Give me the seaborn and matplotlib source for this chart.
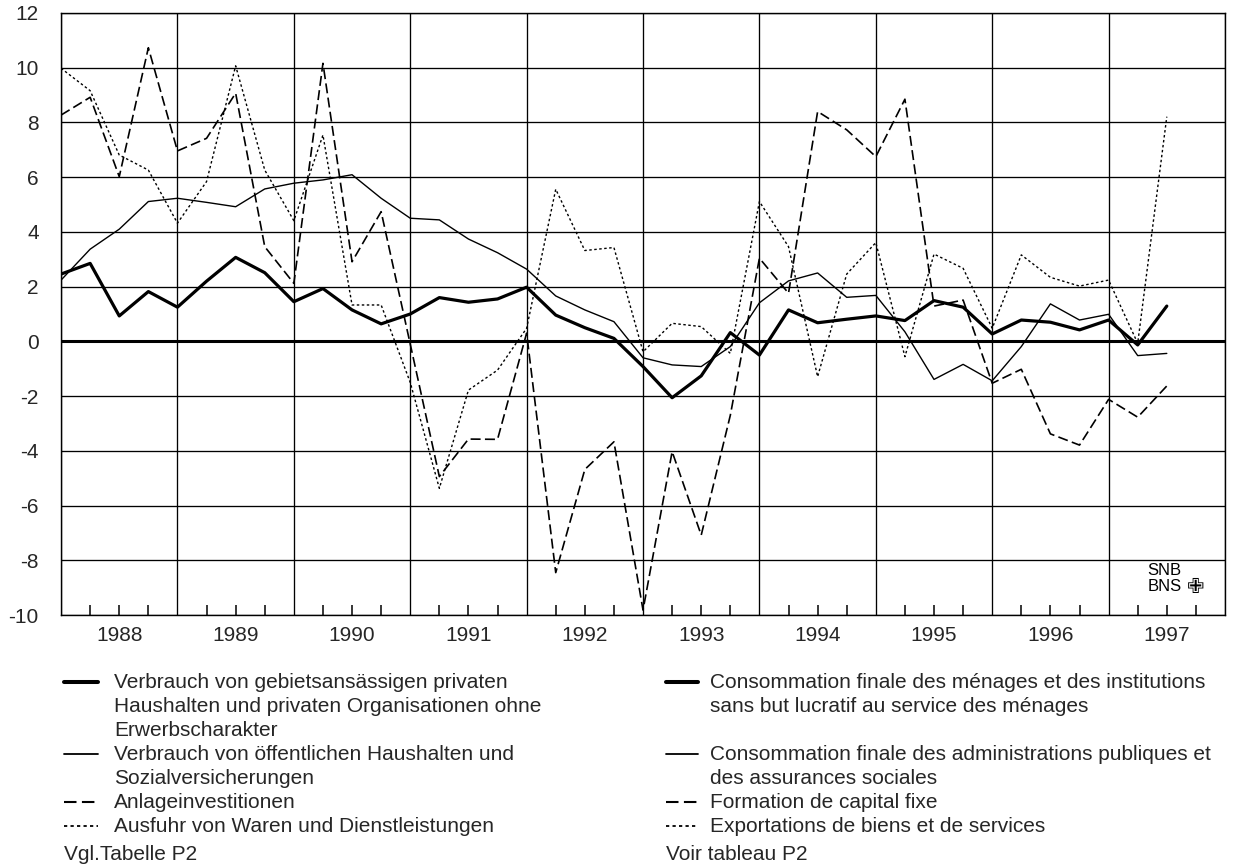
import numpy as np
import pandas as pd
import matplotlib
matplotlib.use("Agg")
import matplotlib.pyplot as plt
from matplotlib.lines import Line2D
from matplotlib.ticker import FixedLocator, FuncFormatter
import seaborn as sns

# Quarterly growth rates, 1988 Q1 .. 1997 Q3 (in %)
quarters = [1988 + k / 4 for k in range(39)]

private_consumption = [2.46, 2.85, 0.93, 1.82, 1.25, 2.2, 3.07, 2.51, 1.45, 1.93,
                       1.15, 0.64, 1.0, 1.6, 1.43, 1.55, 1.98, 0.96, 0.5, 0.11,
                       -0.92, -2.06, -1.26, 0.32, -0.5, 1.15, 0.68, 0.81, 0.93, 0.76,
                       1.49, 1.25, 0.27, 0.78, 0.7, 0.42, 0.78, -0.13, 1.29]

public_consumption = [2.24, 3.37, 4.1, 5.11, 5.23, 5.08, 4.92, 5.57, 5.78, 5.9,
                      6.09, 5.23, 4.5, 4.44, 3.74, 3.24, 2.64, 1.66, 1.15, 0.72,
                      -0.6, -0.86, -0.92, -0.19, 1.41, 2.21, 2.5, 1.61, 1.68, 0.35,
                      -1.39, -0.84, -1.44, -0.19, 1.37, 0.78, 0.99, -0.52, -0.44]

fixed_investment = [8.27, 8.92, 6.02, 10.73, 6.96, 7.42, 9.07, 3.46, 2.12, 10.16,
                    2.91, 4.74, -0.1, -4.94, -3.57, -3.58, 0.3, -8.45, -4.68, -3.67,
                    -9.82, -4.03, -7.08, -2.7, 3.04, 1.76, 8.4, 7.73, 6.75, 8.85,
                    1.29, 1.51, -1.53, -1.02, -3.38, -3.79, -2.12, -2.77, -1.63]

exports = [9.98, 9.16, 6.81, 6.26, 4.32, 5.84, 10.07, 6.26, 4.41, 7.54,
           1.33, 1.33, -1.5, -5.37, -1.78, -1.05, 0.48, 5.56, 3.32, 3.43,
           -0.38, 0.66, 0.54, -0.44, 5.11, 3.46, -1.29, 2.46, 3.61, -0.56,
           3.19, 2.67, 0.48, 3.16, 2.34, 2.02, 2.24, -0.07, 8.21]

years = list(range(1988, 1998))
y_ticks = list(range(-10, 13, 2))

labels_de = [
    "Verbrauch von gebietsansässigen privaten\nHaushalten und privaten Organisationen ohne\nErwerbscharakter",
    "Verbrauch von öffentlichen Haushalten und\nSozialversicherungen",
    "Anlageinvestitionen",
    "Ausfuhr von Waren und Dienstleistungen",
]
labels_fr = [
    "Consommation finale des ménages et des institutions\nsans but lucratif au service des ménages",
    "Consommation finale des administrations publiques et\ndes assurances sociales",
    "Formation de capital fixe",
    "Exportations de biens et de services",
]
source_de = "Vgl.Tabelle P2"
source_fr = "Voir tableau P2"

sns.set_theme(style="white")
plt.rcParams["font.family"] = ["Liberation Sans", "DejaVu Sans"]

styles = [
    dict(lw=2.3, ls="-"),
    dict(lw=1.0, ls="-"),
    dict(lw=1.2, ls=(0, (6, 2.6))),
    dict(lw=1.0, ls=(0, (1.8, 1.8))),
]
series = [private_consumption, public_consumption, fixed_investment, exports]

fig = plt.figure(figsize=(12.36, 8.66), dpi=100)
ax = fig.add_axes([0.0494, 0.2898, 0.9417, 0.6952])

for vals, st in zip(series, styles):
    df = pd.DataFrame({"t": quarters, "v": vals})
    sns.lineplot(data=df, x="t", y="v", ax=ax, color="black",
                 linewidth=st["lw"], linestyle=st["ls"], zorder=3)

ax.axhline(0, color="black", lw=2.2, zorder=2.5)

ax.set_xlim(years[0], years[-1] + 1)
ax.set_ylim(y_ticks[0], y_ticks[-1])

# Year boundaries carry the vertical grid, quarters carry small inward ticks
ax.xaxis.set_major_locator(FixedLocator(years + [years[-1] + 1]))
ax.xaxis.set_major_formatter(FuncFormatter(lambda v, p: ""))
ax.xaxis.set_minor_locator(FixedLocator([y + q / 4 for y in years for q in (1, 2, 3)]))
ax.xaxis.set_minor_formatter(FuncFormatter(
    lambda v, p: f"{int(v)}" if abs(v - int(v) - 0.5) < 1e-6 else ""))
ax.tick_params(axis="x", which="major", length=0)
ax.tick_params(axis="x", which="minor", direction="in", length=7, width=1.1,
               color="black", labelsize=15, pad=8, bottom=True)

ax.yaxis.set_major_locator(FixedLocator(y_ticks))
ax.set_yticklabels([str(v) for v in y_ticks])
ax.tick_params(axis="y", which="major", length=0, labelsize=15, pad=16)

ax.grid(True, which="major", axis="both", color="black", lw=0.95)
ax.set_axisbelow(True)
for s in ax.spines.values():
    s.set_color("black")
    s.set_linewidth(1.0)
ax.set_xlabel("")
ax.set_ylabel("")

# Bank mark in the lower right corner
ax.text(1997.335, -8.39, "SNB", fontsize=12, va="center", ha="left", color="black")
ax.text(1997.335, -8.97, "BNS", fontsize=12, va="center", ha="left", color="black")
ax.text(1997.745, -8.97, "\u2719", fontsize=15, va="center", ha="center",
        family=["DejaVu Sans"], color="black")

# Bilingual key beneath the plot
W, H = 1236, 866
row_h = 24.0
first_row = 682
col_de = dict(h0=64, h1=98, tx=114)
col_fr = dict(h0=666, h1=698, tx=710)


def draw_key(col, labels, rows):
    for lab, st, r in zip(labels, styles, rows):
        y = first_row + r * row_h
        fy = 1 - y / H
        fig.add_artist(Line2D([col["h0"] / W, col["h1"] / W], [fy, fy],
                              color="black",
                              lw=st["lw"] + 0.6 if st["lw"] > 2 else st["lw"] + 0.3,
                              ls=st["ls"], transform=fig.transFigure))
        for i, line in enumerate(lab.split("\n")):
            fig.text(col["tx"] / W, 1 - (y + i * row_h) / H, line, fontsize=15,
                     va="center", ha="left")


draw_key(col_de, labels_de, [0, 3, 5, 6])
draw_key(col_fr, labels_fr, [0, 3, 5, 6])
fig.text(col_de["h0"] / W, 1 - 855 / H, source_de, fontsize=15, va="center", ha="left")
fig.text(col_fr["h0"] / W, 1 - 855 / H, source_fr, fontsize=15, va="center", ha="left")

fig.savefig("out.png", dpi=100)
